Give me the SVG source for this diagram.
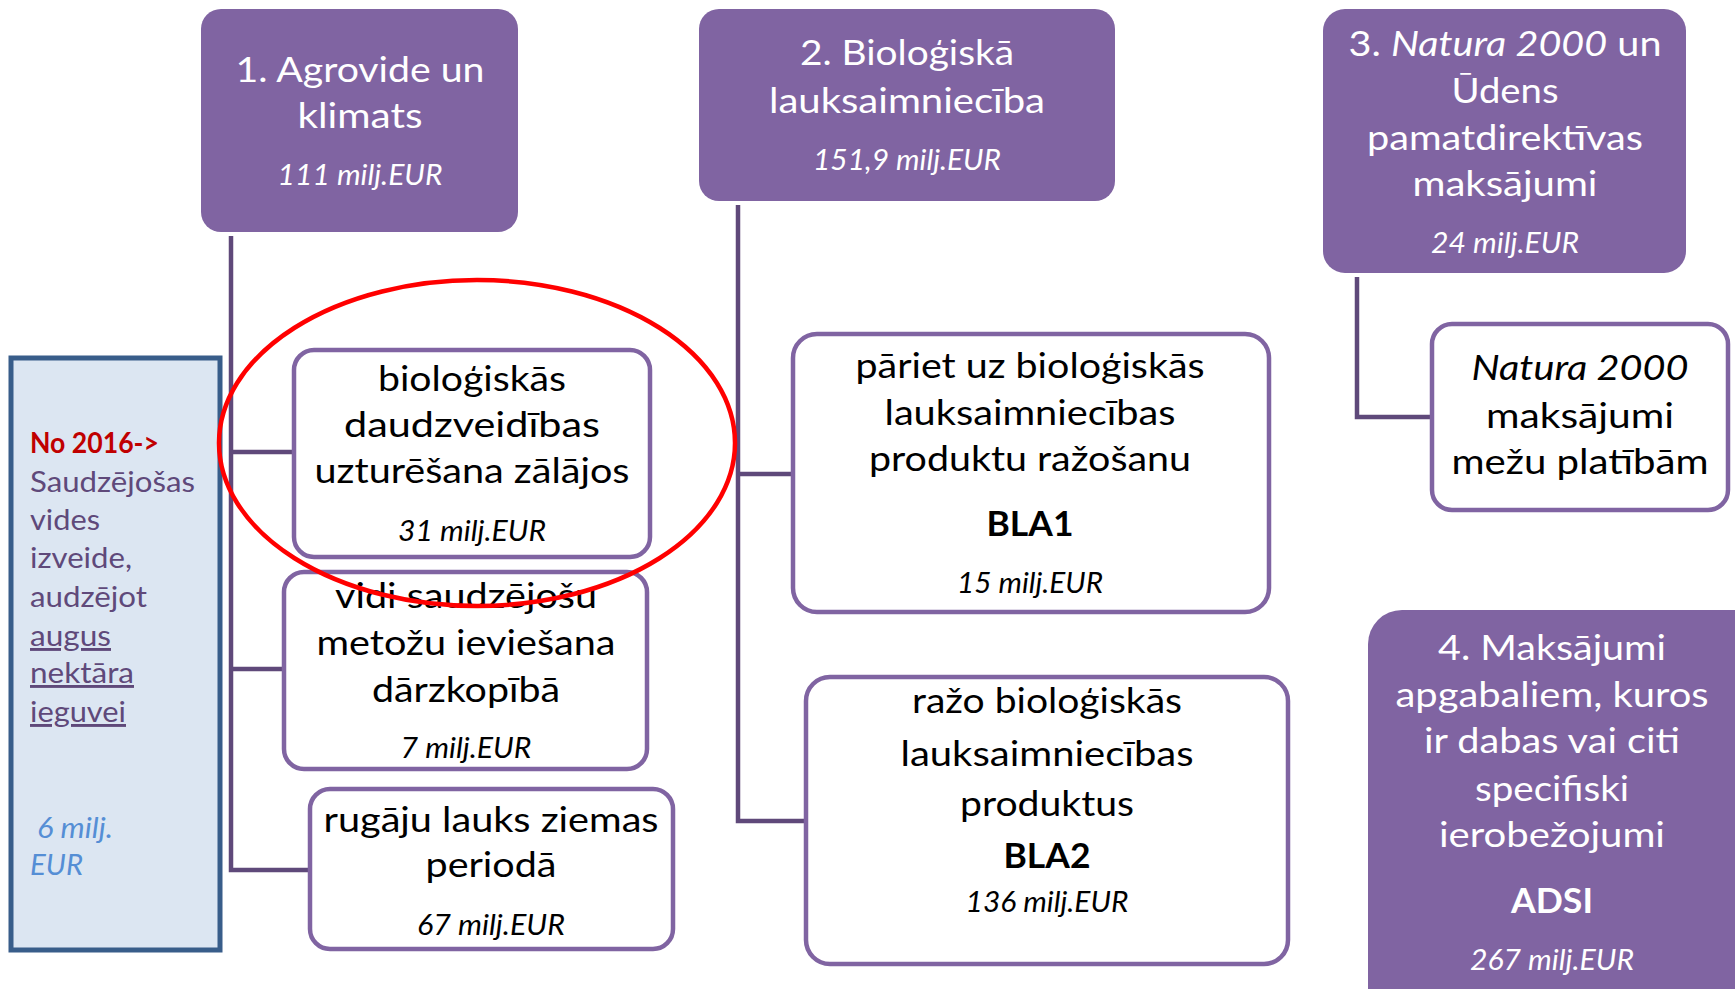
<svg xmlns="http://www.w3.org/2000/svg" width="1735" height="989" viewBox="0 0 1735 989">
<style>
.hd{fill:#8064A2;}
.wb{fill:#FFFFFF;stroke:#8064A2;stroke-width:4.5;}
.cn{fill:none;stroke:#5F497A;stroke-width:4.5;}
text{font-family:Lato,"Open Sans","Liberation Sans",sans-serif;text-anchor:middle;}
.t{font-size:35px;fill:#000;}
.w{font-size:35px;fill:#FFF;}
.m{font-size:28px;font-style:italic;fill:#000;}
.mw{font-size:28px;font-style:italic;fill:#FFF;}
.b{font-weight:bold;}
.l{font-size:29px;fill:#5F497A;text-anchor:start;}
</style>
<rect width="1735" height="989" fill="#FFFFFF"/>
<g id="connectors">
<polyline class="cn" points="231,236 231,870 310,870"/>
<line class="cn" x1="231" y1="452" x2="294" y2="452"/>
<line class="cn" x1="231" y1="669" x2="284" y2="669"/>
<polyline class="cn" points="738,205 738,821 806,821"/>
<line class="cn" x1="738" y1="474" x2="793" y2="474"/>
<polyline class="cn" points="1357,277 1357,417 1432,417"/>
</g>
<g id="note">
<rect x="11" y="358" width="209" height="592" fill="#DCE6F2" stroke="#385D8A" stroke-width="5"/>
<text class="l b" x="30" y="453" fill="#C00000" style="fill:#C00000" textLength="129" lengthAdjust="spacingAndGlyphs">No 2016-&gt;</text>
<text class="l" x="30" y="492" textLength="165" lengthAdjust="spacingAndGlyphs">Saudzējošas</text>
<text class="l" x="30" y="530" textLength="70" lengthAdjust="spacingAndGlyphs">vides</text>
<text class="l" x="30" y="568" textLength="102" lengthAdjust="spacingAndGlyphs">izveide,</text>
<text class="l" x="30" y="607" textLength="117" lengthAdjust="spacingAndGlyphs">audzējot</text>
<text class="l" x="30" y="646" text-decoration="underline" textLength="81" lengthAdjust="spacingAndGlyphs">augus</text>
<text class="l" x="30" y="683" text-decoration="underline" textLength="104" lengthAdjust="spacingAndGlyphs">nektāra</text>
<text class="l" x="30" y="722" text-decoration="underline" textLength="96" lengthAdjust="spacingAndGlyphs">ieguvei</text>
<text class="l" x="37" y="838" style="fill:#558ED5;font-style:italic" textLength="76" lengthAdjust="spacingAndGlyphs">6 milj.</text>
<text class="l" x="30" y="875" style="fill:#558ED5;font-style:italic" textLength="53" lengthAdjust="spacingAndGlyphs">EUR</text>
</g>
<g id="n1">
<rect class="hd" x="201" y="9" width="317" height="223" rx="20"/>
<text class="w" x="360" y="82" textLength="249" lengthAdjust="spacingAndGlyphs">1. Agrovide un</text>
<text class="w" x="360" y="128" textLength="125" lengthAdjust="spacingAndGlyphs">klimats</text>
<text class="mw" x="360" y="185" textLength="165" lengthAdjust="spacingAndGlyphs">111 milj.EUR</text>
</g>
<g id="n1a">
<rect class="wb" x="294" y="350" width="356" height="207" rx="20"/>
<text class="t" x="472" y="391" textLength="188" lengthAdjust="spacingAndGlyphs">bioloģiskās</text>
<text class="t" x="472" y="437" textLength="256" lengthAdjust="spacingAndGlyphs">daudzveidības</text>
<text class="t" x="472" y="483" textLength="315" lengthAdjust="spacingAndGlyphs">uzturēšana zālājos</text>
<text class="m" x="472" y="541" textLength="148" lengthAdjust="spacingAndGlyphs">31 milj.EUR</text>
</g>
<g id="n1b">
<rect class="wb" x="284" y="572" width="363" height="197" rx="20"/>
<text class="t" x="466" y="608" textLength="262" lengthAdjust="spacingAndGlyphs">vidi saudzējošu</text>
<text class="t" x="466" y="655" textLength="299" lengthAdjust="spacingAndGlyphs">metožu ieviešana</text>
<text class="t" x="466" y="702" textLength="188" lengthAdjust="spacingAndGlyphs">dārzkopībā</text>
<text class="m" x="466" y="758" textLength="131" lengthAdjust="spacingAndGlyphs">7 milj.EUR</text>
</g>
<g id="n1c">
<rect class="wb" x="310" y="789" width="363" height="160" rx="20"/>
<text class="t" x="491" y="832" textLength="335" lengthAdjust="spacingAndGlyphs">rugāju lauks ziemas</text>
<text class="t" x="491" y="877" textLength="131" lengthAdjust="spacingAndGlyphs">periodā</text>
<text class="m" x="491" y="935" textLength="148" lengthAdjust="spacingAndGlyphs">67 milj.EUR</text>
</g>
<g id="n2">
<rect class="hd" x="699" y="9" width="416" height="192" rx="20"/>
<text class="w" x="907" y="65" textLength="214" lengthAdjust="spacingAndGlyphs">2. Bioloģiskā</text>
<text class="w" x="907" y="113" textLength="276" lengthAdjust="spacingAndGlyphs">lauksaimniecība</text>
<text class="mw" x="907" y="170" textLength="188" lengthAdjust="spacingAndGlyphs">151,9 milj.EUR</text>
</g>
<g id="n2a">
<rect class="wb" x="793" y="334" width="476" height="278" rx="24"/>
<text class="t" x="1030" y="378" textLength="349" lengthAdjust="spacingAndGlyphs">pāriet uz bioloģiskās</text>
<text class="t" x="1030" y="425" textLength="291" lengthAdjust="spacingAndGlyphs">lauksaimniecības</text>
<text class="t" x="1030" y="471" textLength="322" lengthAdjust="spacingAndGlyphs">produktu ražošanu</text>
<text class="t b" x="1030" y="536" textLength="87" lengthAdjust="spacingAndGlyphs">BLA1</text>
<text class="m" x="1030" y="593" textLength="146" lengthAdjust="spacingAndGlyphs">15 milj.EUR</text>
</g>
<g id="n2b">
<rect class="wb" x="806" y="677" width="482" height="287" rx="24"/>
<text class="t" x="1047" y="713" textLength="270" lengthAdjust="spacingAndGlyphs">ražo bioloģiskās</text>
<text class="t" x="1047" y="766" textLength="293" lengthAdjust="spacingAndGlyphs">lauksaimniecības</text>
<text class="t" x="1047" y="816" textLength="174" lengthAdjust="spacingAndGlyphs">produktus</text>
<text class="t b" x="1047" y="868" textLength="87" lengthAdjust="spacingAndGlyphs">BLA2</text>
<text class="m" x="1047" y="912" textLength="163" lengthAdjust="spacingAndGlyphs">136 milj.EUR</text>
</g>
<g id="n3">
<rect class="hd" x="1323" y="9" width="363" height="264" rx="22"/>
<text class="w" x="1505" y="56" textLength="313" lengthAdjust="spacingAndGlyphs">3. <tspan font-style="italic">Natura 2000</tspan> un</text>
<text class="w" x="1505" y="103" textLength="107" lengthAdjust="spacingAndGlyphs">Ūdens</text>
<text class="w" x="1505" y="150" textLength="276" lengthAdjust="spacingAndGlyphs">pamatdirektīvas</text>
<text class="w" x="1505" y="196" textLength="185" lengthAdjust="spacingAndGlyphs">maksājumi</text>
<text class="mw" x="1505" y="253" textLength="148" lengthAdjust="spacingAndGlyphs">24 milj.EUR</text>
</g>
<g id="n3a">
<rect class="wb" x="1432" y="324" width="296" height="186" rx="20"/>
<text class="t" x="1580" y="380" font-style="italic" textLength="217" lengthAdjust="spacingAndGlyphs">Natura 2000</text>
<text class="t" x="1580" y="428" textLength="188" lengthAdjust="spacingAndGlyphs">maksājumi</text>
<text class="t" x="1580" y="474" textLength="257" lengthAdjust="spacingAndGlyphs">mežu platībām</text>
</g>
<g id="n4">
<rect class="hd" x="1368" y="610" width="400" height="420" rx="34"/>
<text class="w" x="1552" y="660" textLength="228" lengthAdjust="spacingAndGlyphs">4. Maksājumi</text>
<text class="w" x="1552" y="707" textLength="313" lengthAdjust="spacingAndGlyphs">apgabaliem, kuros</text>
<text class="w" x="1552" y="753" textLength="256" lengthAdjust="spacingAndGlyphs">ir dabas vai citi</text>
<text class="w" x="1552" y="801" textLength="154" lengthAdjust="spacingAndGlyphs">specifiski</text>
<text class="w" x="1552" y="847" textLength="226" lengthAdjust="spacingAndGlyphs">ierobežojumi</text>
<text class="w b" x="1552" y="913" textLength="82" lengthAdjust="spacingAndGlyphs">ADSI</text>
<text class="mw" x="1552" y="970" textLength="164" lengthAdjust="spacingAndGlyphs">267 milj.EUR</text>
</g>
<ellipse id="highlight" cx="477" cy="443" rx="258" ry="163" fill="none" stroke="#FF0000" stroke-width="4.5"/>
</svg>
